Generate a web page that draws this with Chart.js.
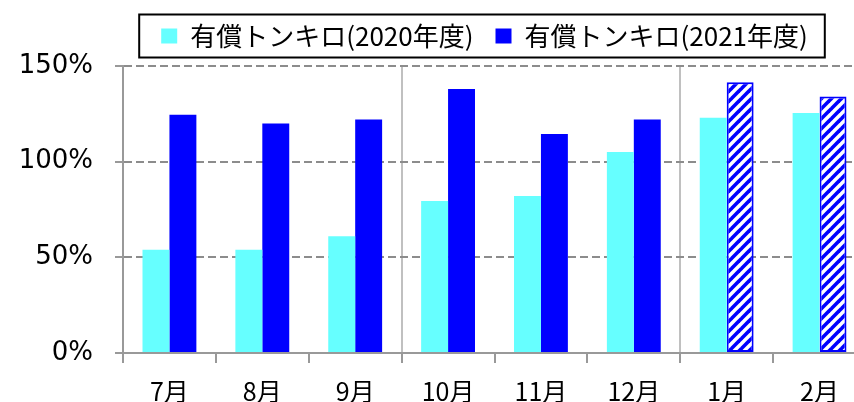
<!DOCTYPE html>
<html>
<head>
<meta charset="utf-8">
<script src="https://cdn.jsdelivr.net/npm/chart.js@4"></script>
<style>
  html, body { margin: 0; padding: 0; background: #fff; overflow: hidden; }
</style>
</head>
<body>
<canvas id="chart" width="866" height="402"></canvas>
<script>
// Data
const months = ["7月", "8月", "9月", "10月", "11月", "12月", "1月", "2月"];
const ton2020 = [54, 54, 61, 79.5, 82, 105, 123, 125.5];
const ton2021 = [124.5, 120, 122, 138, 114.5, 122, 141.5, 134];
const yTicks = [0, 50, 100, 150];
const estimatedFrom = 6; // 1月以降は見込み（斜線）
const separators = [3, 6]; // 期の区切り線

// Hatch pattern for the estimated bars
function makeHatch() {
  const c = document.createElement("canvas");
  c.width = 10;
  c.height = 10;
  const g = c.getContext("2d");
  g.fillStyle = "#fff";
  g.fillRect(0, 0, 10, 10);
  g.strokeStyle = "#0000ff";
  g.lineWidth = 3.6;
  [0, 10, 20].forEach((k) => {
    g.beginPath();
    g.moveTo(-2, k + 2);
    g.lineTo(k + 2, -2);
    g.stroke();
  });
  return g.createPattern(c, "repeat");
}

const hatch = makeHatch();
const blue2021 = ton2021.map((v, i) => (i >= estimatedFrom ? hatch : "#0000ff"));
const border2021 = ton2021.map((v, i) => (i >= estimatedFrom ? 2 : 0));

// Extra space under the legend, and nudge it a little left
const legendGap = {
  id: "legendGap",
  beforeInit(chart) {
    const fit = chart.legend.fit;
    chart.legend.fit = function () {
      fit.bind(chart.legend)();
      this.height += 7;
    };
  },
  afterLayout(chart) {
    chart.legend.left -= 10;
    chart.legend.right -= 10;
  },
};

// Border around the legend
const legendFrame = {
  id: "legendFrame",
  afterDraw(chart) {
    const boxes = chart.legend.legendHitBoxes;
    if (!boxes || !boxes.length) return;
    const first = boxes[0];
    const last = boxes[boxes.length - 1];
    const ctx = chart.ctx;
    ctx.save();
    ctx.strokeStyle = "#000";
    ctx.lineWidth = 2;
    const x1 = first.left - 22;
    const x2 = last.left + last.width + 17;
    const yc = first.top + first.height / 2;
    ctx.strokeRect(x1, yc - 21.5, x2 - x1, 43);
    ctx.restore();
  },
};

const ctx = document.getElementById("chart").getContext("2d");
new Chart(ctx, {
  type: "bar",
  data: {
    labels: months,
    datasets: [
      {
        label: "有償トンキロ(2020年度)",
        data: ton2020,
        backgroundColor: "#66ffff",
        borderWidth: 0,
      },
      {
        label: "有償トンキロ(2021年度)",
        data: ton2021,
        backgroundColor: blue2021,
        borderColor: "#0000ff",
        borderWidth: border2021,
        borderSkipped: false,
      },
    ],
  },
  options: {
    responsive: false,
    animation: false,
    layout: { padding: { left: 14, right: 0, top: 1, bottom: 0 } },
    datasets: {
      bar: { categoryPercentage: 0.58, barPercentage: 1 },
    },
    plugins: {
      tooltip: { enabled: false },
      legend: {
        position: "top",
        fullSize: false,
        labels: {
          color: "#000",
          font: { family: "'Noto Sans CJK JP'", size: 26 },
          boxWidth: 16,
          boxHeight: 15,
          padding: 22,
          generateLabels: (chart) =>
            chart.data.datasets.map((ds, i) => ({
              text: ds.label,
              fillStyle: i === 0 ? "#66ffff" : "#0000ff",
              strokeStyle: "transparent",
              lineWidth: 0,
              datasetIndex: i,
            })),
        },
      },
    },
    scales: {
      x: {
        afterFit: (scale) => {
          scale.height = 49;
        },
        grid: {
          offset: true,
          color: (c) => (separators.includes(c.index) ? "#c0c0c0" : "transparent"),
          lineWidth: 2,
          tickColor: "#999",
          tickLength: 10,
        },
        border: { color: "#999", width: 2 },
        ticks: {
          color: "#000",
          padding: 13,
          font: { family: "'Noto Sans CJK JP'", size: 25 },
        },
      },
      y: {
        min: 0,
        max: 150,
        afterBuildTicks: (scale) => {
          scale.ticks = yTicks.map((v) => ({ value: v }));
        },
        afterFit: (scale) => {
          scale.width = 109;
        },
        grid: {
          color: "#8c8c8c",
          lineWidth: 2,
          tickColor: "#999",
          tickLength: 8,
        },
        border: { color: "#999", width: 2, dash: [8, 4] },
        ticks: {
          color: "#000",
          padding: 22,
          font: { family: "'DejaVu Sans'", size: 26 },
          callback: (v) => v + "%",
        },
      },
    },
  },
  plugins: [legendGap, legendFrame],
});
</script>
</body>
</html>
